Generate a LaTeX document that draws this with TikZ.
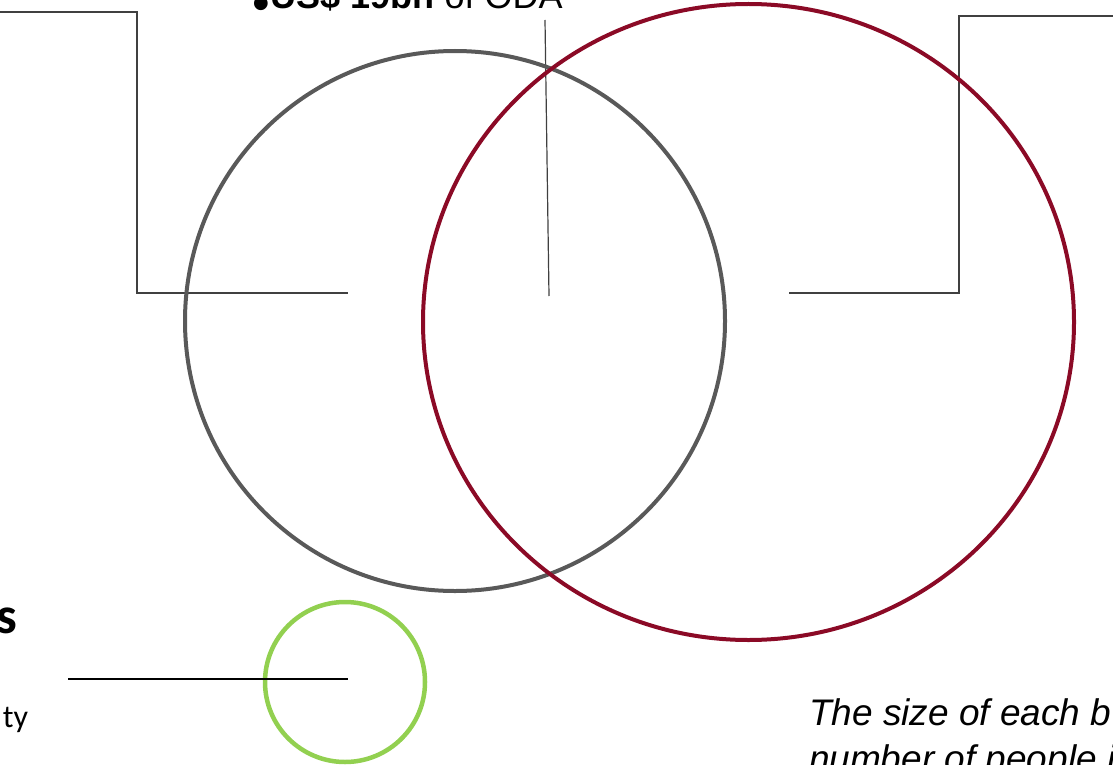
\documentclass[tikz,border=0pt]{standalone}
\usepackage{fontspec}
\usepackage{graphicx}
\setmainfont{Liberation Sans}
\newfontfamily\calib{Carlito}
\usetikzlibrary{shapes.geometric}
\definecolor{ringgray}{HTML}{595959}
\definecolor{ringred}{HTML}{8B0A26}
\definecolor{ringgreen}{HTML}{92D050}
\definecolor{leader}{HTML}{404040}
\tikzset{
  ring/.style={draw=#1, line width=4pt, fill=none, inner sep=0pt, outer sep=0pt},
  leaderline/.style={draw=leader, line width=1.2pt},
  keyline/.style={draw=black, line width=2pt},
  txt/.style={inner sep=0pt, outer sep=0pt}
}
\begin{document}
\begin{tikzpicture}[x=1pt,y=-1pt]
\useasboundingbox (0,0) rectangle (1113,765);
% leader lines
\coordinate (lA) at (0,12);
\coordinate (lK1) at (137,12);
\coordinate (lK2) at (137,293);
\coordinate (lB) at (348,293);
\draw[leaderline] (lA) -- (lK1) -- (lK2) -- (lB);
\coordinate (mT) at (545,20);
\coordinate (mB) at (549,296);
\draw[leaderline] (mT) -- (mB);
\coordinate (rA) at (789,293);
\coordinate (rK1) at (959,293);
\coordinate (rK2) at (959,16);
\coordinate (rB) at (1113,16);
\draw[leaderline] (rA) -- (rK1) -- (rK2) -- (rB);
% bubbles
\node[ring=ringgray, circle, minimum size=540pt] (grey) at (455,321) {};
\node[ring=ringred, ellipse, minimum width=651pt, minimum height=636pt] (red) at (748.5,322) {};
\node[ring=ringgreen, line width=4.5pt, circle, minimum size=160pt] (green) at (345,682) {};
\coordinate (gA) at (68,679);
\coordinate (gB) at (348,679);
\draw[keyline] (gA) -- (gB);
% texts
\node[txt, anchor=base west, font=\fontsize{36}{43}\selectfont] (oda) at (252,9) {\raisebox{-12pt}{\scalebox{1.4}{•}}\kern1pt\textbf{US\$ 19bn} of ODA};
\node[txt, anchor=base east, font=\calib\bfseries\fontsize{52}{60}\selectfont] (heads) at (17,633) {s};
\node[txt, anchor=base east, font=\calib\fontsize{32}{38}\selectfont] (tail) at (28,727) {ty};
\node[txt, anchor=base west, font=\itshape\fontsize{37}{44}\selectfont] (note1) at (809,725) {The size of each b};
\node[txt, anchor=base west, font=\itshape\fontsize{37}{44}\selectfont] (note2) at (809,771) {number of people i};
\end{tikzpicture}
\end{document}
